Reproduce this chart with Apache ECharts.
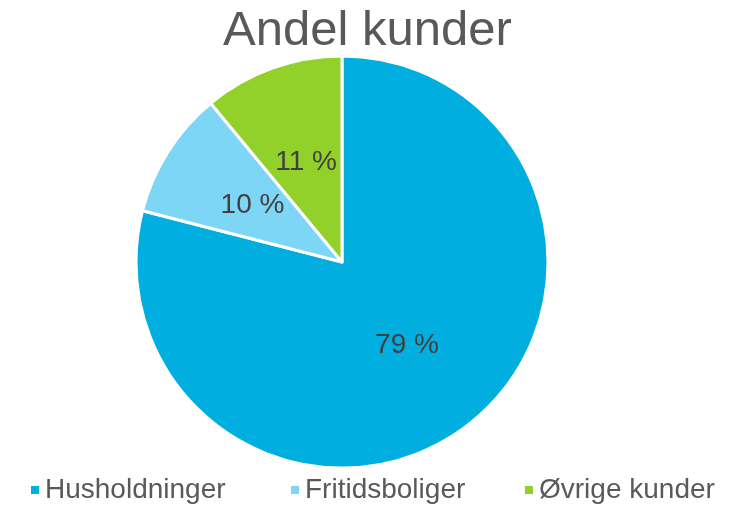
<!DOCTYPE html>
<html>
<head>
<meta charset="utf-8">
<script src="https://cdn.jsdelivr.net/npm/echarts@6/dist/echarts.min.js"></script>
<style>
  html, body { margin: 0; padding: 0; background: #fff; }
  #chart { width: 735px; height: 505px; }
</style>
</head>
<body>
<div id="chart"></div>
<script>
// kundegrupper og andeler (%)
const categories = ["Husholdninger", "Fritidsboliger", "Øvrige kunder"];
const shares = [79, 10, 11];
const colors = ["#00AEDF", "#7DD6F6", "#92D02A"];

// hver legend-post plasseres for seg (x-posisjon i px)
const legendLeft = [24, 284, 518];

const chart = echarts.init(document.getElementById("chart"));

const legendText = {
  fontFamily: "Liberation Sans",
  fontSize: 28,
  color: "#595959",
};

const option = {
  animation: false,
  title: {
    text: "Andel kunder",
    left: "center",
    top: 2,
    textStyle: {
      fontFamily: "Liberation Sans",
      fontSize: 49,
      fontWeight: "normal",
      color: "#595959",
    },
  },
  legend: categories.map((name, i) => ({
    data: [name],
    left: legendLeft[i],
    top: 471,
    itemWidth: 10,
    itemHeight: 10,
    itemGap: 6,
    icon: "rect",
    textStyle: legendText,
  })),
  series: [
    {
      type: "pie",
      center: [342, 262],
      radius: [0, 206],
      startAngle: 90,
      clockwise: true,
      itemStyle: {
        borderColor: "#fff",
        borderWidth: 3,
      },
      label: {
        show: true,
        position: "inside",
        formatter: "{c} %",
        fontFamily: "Liberation Sans",
        fontSize: 28,
        color: "#404040",
      },
      labelLine: { show: false },
      data: categories.map((name, i) => ({
        name: name,
        value: shares[i],
        itemStyle: { color: colors[i] },
      })),
    },
  ],
};

chart.setOption(option);
</script>
</body>
</html>
